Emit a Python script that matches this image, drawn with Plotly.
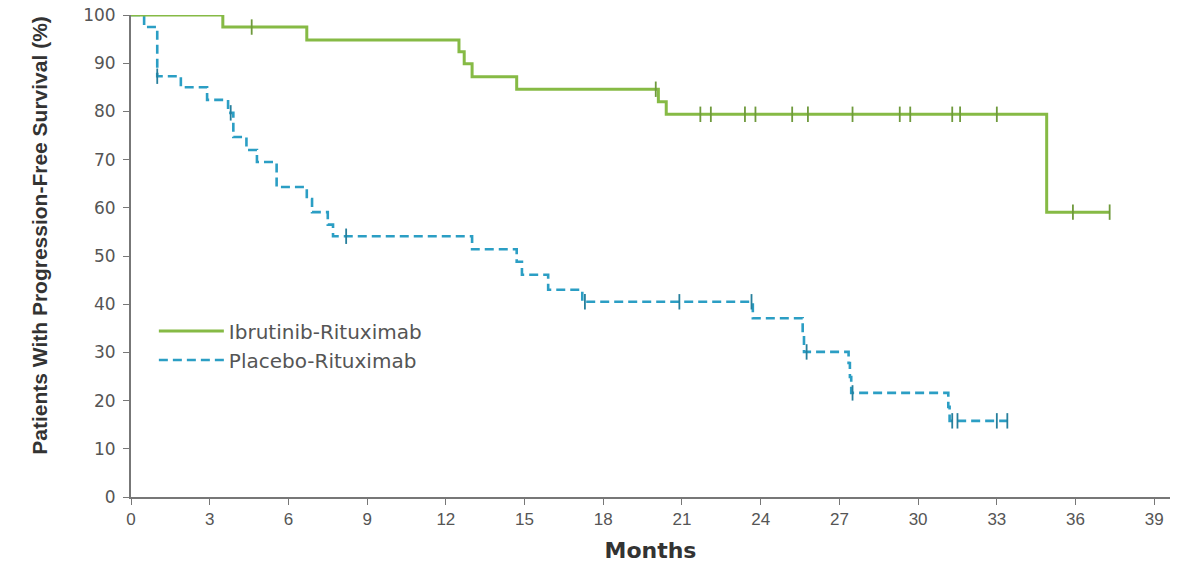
import plotly.graph_objects as go

# ---- data (months, % progression-free) ----
ibr_times = [0, 3.5, 6.7, 12.5, 12.7, 13.0, 14.7, 20.1, 20.4, 34.9, 37.3]
ibr_surv = [100, 97.5, 94.8, 92.4, 89.9, 87.2, 84.6, 82.0, 79.4, 59.1, 59.1]
ibr_cens_t = [4.6, 20.0, 21.7, 22.1, 23.4, 23.8, 25.2, 25.8, 27.5, 29.3, 29.7,
              31.3, 31.6, 33.0, 35.9, 37.3]

pla_times = [0, 0.5, 1.0, 1.9, 2.9, 3.7, 3.9, 4.4, 4.8, 5.55, 6.7, 6.9, 7.5, 7.7,
             13.0, 14.7, 14.9, 15.9, 17.2, 23.7, 25.6, 25.65, 27.35, 27.4, 27.45,
             31.15, 31.2, 33.4]
pla_surv = [100, 97.5, 87.3, 85.0, 82.4, 79.7, 74.7, 72.0, 69.5, 64.3, 61.8, 59.1,
            56.5, 54.1, 51.4, 48.8, 46.1, 43.0, 40.5, 37.1, 33.6, 30.1, 27.8, 24.9,
            21.6, 18.7, 15.8, 15.8]
pla_cens_t = [1.0, 3.8, 8.2, 17.3, 20.9, 23.65, 25.75, 27.5, 31.3, 31.5, 33.0, 33.4]

x_ticks = list(range(0, 40, 3))
y_ticks = list(range(0, 101, 10))

GREEN = "#86ba45"
GREEN_MARK = "#6f9a3c"
BLUE = "#2b9ec4"
BLUE_MARK = "#267f9c"
TXT = "#555555"


def step_value(times, surv, t):
    v = surv[0]
    for ti, si in zip(times, surv):
        if ti <= t:
            v = si
    return v


ibr_cens_v = [step_value(ibr_times, ibr_surv, t) for t in ibr_cens_t]
pla_cens_v = [step_value(pla_times, pla_surv, t) for t in pla_cens_t]

fig = go.Figure()
fig.add_trace(go.Scatter(x=pla_times, y=pla_surv, mode="lines", line_shape="hv",
                         line=dict(color=BLUE, width=2.6, dash="9px,5px"),
                         name="Placebo-Rituximab", legendrank=2, cliponaxis=False))
fig.add_trace(go.Scatter(x=pla_cens_t, y=pla_cens_v, mode="markers",
                         marker=dict(symbol="line-ns-open", size=11, color=BLUE_MARK,
                                     line=dict(color=BLUE_MARK, width=1.8)),
                         showlegend=False, cliponaxis=False))
fig.add_trace(go.Scatter(x=ibr_times, y=ibr_surv, mode="lines", line_shape="hv",
                         line=dict(color=GREEN, width=3),
                         name="Ibrutinib-Rituximab", legendrank=1, cliponaxis=False))
fig.add_trace(go.Scatter(x=ibr_cens_t, y=ibr_cens_v, mode="markers",
                         marker=dict(symbol="line-ns-open", size=11, color=GREEN_MARK,
                                     line=dict(color=GREEN_MARK, width=1.8)),
                         showlegend=False, cliponaxis=False))

fig.add_annotation(text="<b>Patients With Progression-Free Survival (%)</b>",
                   xref="paper", yref="paper", x=-0.0876, y=0.544,
                   xanchor="center", yanchor="middle", textangle=-90, showarrow=False,
                   font=dict(size=21, color="#333", family="Liberation Sans, Arial, sans-serif"))

fig.update_layout(
    width=1192, height=569,
    margin=dict(l=131, r=22, t=15, b=72),
    paper_bgcolor="white", plot_bgcolor="white",
    font=dict(family="Liberation Sans, Arial, sans-serif", color=TXT, size=15),
    showlegend=True,
    legend=dict(x=0.022, y=0.385, xanchor="left", yanchor="top",
                traceorder="normal", bgcolor="rgba(0,0,0,0)", itemwidth=65,
                font=dict(size=20, color=TXT, family="DejaVu Sans, sans-serif")),
    xaxis=dict(range=[0, 39.6], tickvals=x_ticks, ticktext=[str(v) for v in x_ticks],
               automargin=False,
               showgrid=False, zeroline=False, showline=True, linecolor="#777",
               linewidth=2, ticks="outside", ticklen=6, tickcolor="#777",
               tickfont=dict(size=17, color=TXT),
               title=dict(text="<b>Months</b>",
                          font=dict(size=22, color="#333", family="DejaVu Sans, sans-serif"),
                          standoff=14)),
    yaxis=dict(range=[0, 100], tickvals=y_ticks, ticktext=[str(v) for v in y_ticks],
               automargin=False, ticklabelstandoff=4,
               showgrid=False, zeroline=False, showline=True, linecolor="#777",
               linewidth=2, ticks="outside", ticklen=6, tickcolor="#777",
               tickfont=dict(size=17, color=TXT, family="DejaVu Sans, sans-serif")),
)

fig.write_html("out.html", config={"displayModeBar": False},
               post_script="document.body.style.margin='0px';"
                           "document.body.style.overflow='hidden';")
